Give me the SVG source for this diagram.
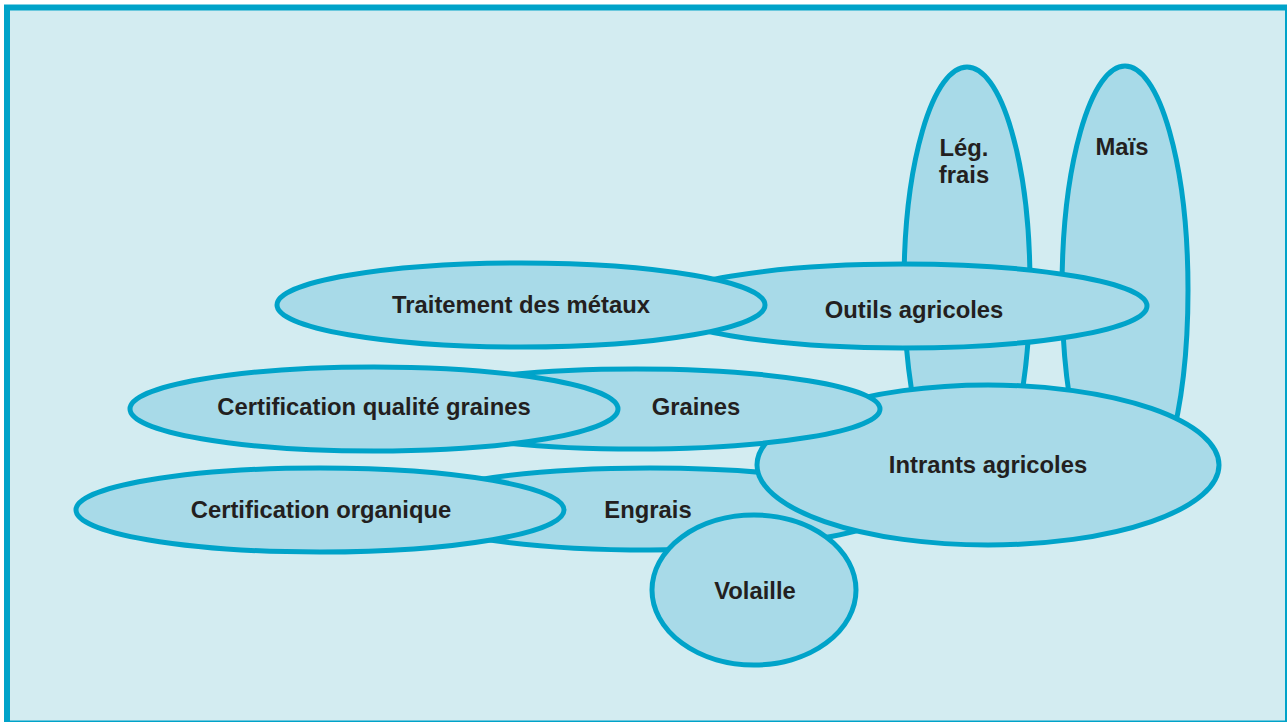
<svg xmlns="http://www.w3.org/2000/svg" width="1287" height="722" viewBox="0 0 1287 722">
  <style>
    .frame { fill: #d3ecf1; stroke: #00a3c9; stroke-width: 6; }
    .bubble { fill: #a8dae8; stroke: #00a3c9; stroke-width: 5; }
    .label { font-family: "Liberation Sans", Arial, sans-serif; font-weight: bold; font-size: 23.8px; fill: #231f20; text-anchor: middle; }
  </style>
  <rect width="1287" height="722" fill="#ffffff"/>
  <rect class="frame" x="7" y="7.5" width="1281" height="716"/>

  <!-- bubbles are stacked back to front -->
  <g id="leg-frais">
    <ellipse class="bubble" cx="967" cy="285" rx="63" ry="218"/>
    <text class="label" x="964" y="156">Lég.</text>
    <text class="label" x="964" y="183">frais</text>
  </g>
  <g id="mais">
    <ellipse class="bubble" cx="1125" cy="290" rx="63" ry="224"/>
    <text class="label" x="1122" y="155">Maïs</text>
  </g>
  <g id="outils-agricoles">
    <ellipse class="bubble" cx="903" cy="306" rx="244" ry="42"/>
    <text class="label" x="914" y="318">Outils agricoles</text>
  </g>
  <g id="traitement-metaux">
    <ellipse class="bubble" cx="521" cy="305" rx="244" ry="42"/>
    <text class="label" x="521" y="313">Traitement des métaux</text>
  </g>
  <g id="engrais">
    <ellipse class="bubble" cx="650" cy="509" rx="244" ry="41"/>
    <text class="label" x="648" y="518">Engrais</text>
  </g>
  <g id="intrants-agricoles">
    <ellipse class="bubble" cx="988" cy="465" rx="231" ry="80"/>
    <text class="label" x="988" y="473">Intrants agricoles</text>
  </g>
  <g id="graines">
    <ellipse class="bubble" cx="636" cy="409" rx="244" ry="40"/>
    <text class="label" x="696" y="415">Graines</text>
  </g>
  <g id="certification-qualite-graines">
    <ellipse class="bubble" cx="374" cy="409" rx="244" ry="42"/>
    <text class="label" x="374" y="415">Certification qualité graines</text>
  </g>
  <g id="certification-organique">
    <ellipse class="bubble" cx="320" cy="510" rx="244" ry="42"/>
    <text class="label" x="321" y="518">Certification organique</text>
  </g>
  <g id="volaille">
    <ellipse class="bubble" cx="754" cy="590" rx="102" ry="75"/>
    <text class="label" x="755" y="599">Volaille</text>
  </g>

  <g id="connectors"/>
</svg>
